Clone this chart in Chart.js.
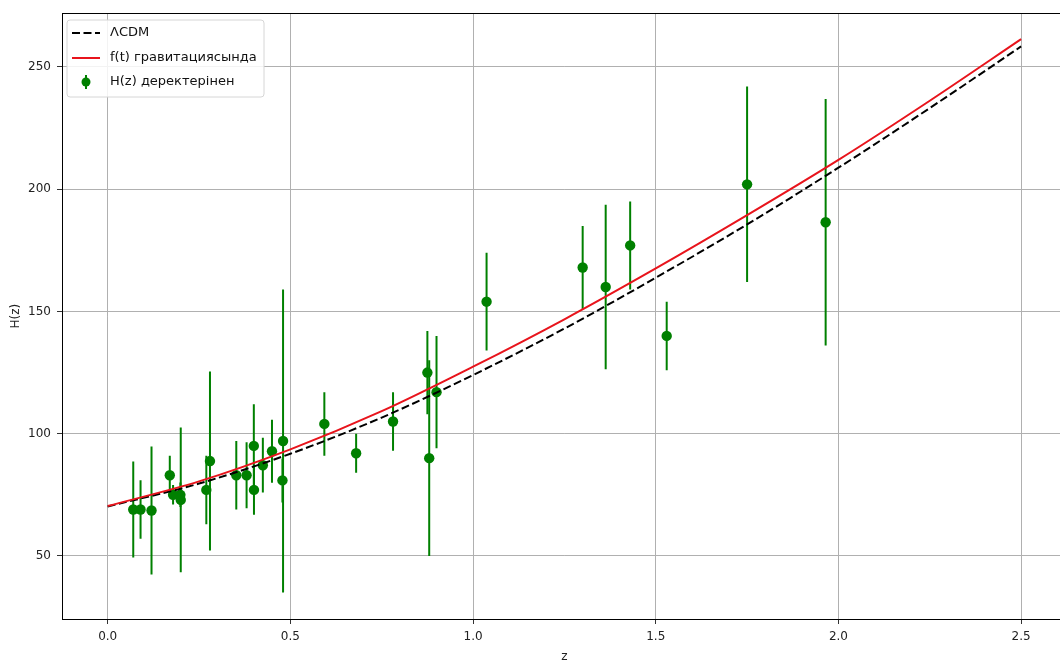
<!DOCTYPE html>
<html>
<head>
<meta charset="utf-8">
<script src="https://cdn.jsdelivr.net/npm/chart.js@4.4.1/dist/chart.umd.min.js"></script>
<style>
  html, body { margin: 0; padding: 0; background: #fff; overflow: hidden; }
  #wrap { width: 1072px; height: 666px; }
</style>
</head>
<body>
<div id="wrap"><canvas id="chart"></canvas></div>
<script>
// observational H(z) points
const zObs = [0.07, 0.09, 0.12, 0.17, 0.179, 0.199, 0.2, 0.27, 0.28, 0.352, 0.3802, 0.4, 0.4004, 0.4247, 0.4497,
              0.4783, 0.48, 0.593, 0.68, 0.781, 0.875, 0.88, 0.9, 1.037, 1.3, 1.363, 1.43, 1.53, 1.75, 1.965];
const hObs = [69, 69, 68.6, 83, 75, 75, 72.9, 77, 88.8, 83, 83, 95, 77, 87.1, 92.8,
              80.9, 97, 104, 92, 105, 125, 90, 117, 154, 168, 160, 177, 140, 202, 186.5];
const hErr = [19.6, 12, 26.2, 8, 4, 5, 29.6, 14, 36.6, 14, 13.5, 17, 10.2, 11.2, 12.9,
              9, 62, 13, 8, 12, 17, 40, 23, 20, 17, 33.6, 18, 14, 40, 50.4];

// model curves
const zCurve = [0, 0.25, 0.5, 0.75, 1.0, 1.25, 1.5, 1.75, 2.0, 2.25, 2.5];
const hLCDM  = [70.2, 79.6, 91.8, 106.6, 124.0, 143.0, 163.8, 185.6, 208.8, 233.2, 258.4];
const hFT    = [70.4, 80.5, 93.6, 109.2, 127.4, 146.8, 167.6, 189.4, 212.0, 236.2, 261.4];

const xTicks = [0, 0.5, 1.0, 1.5, 2.0, 2.5];
const yTicks = [50, 100, 150, 200, 250];

const labels = ['ΛCDM', 'f(t) гравитациясында', 'H(z) деректерінен'];

const FONT = '"DejaVu Sans", "Liberation Sans", sans-serif';
const GREEN = '#008000';

// vertical error bars, drawn under the markers
const errorBars = {
  id: 'errorBars',
  beforeDatasetsDraw(chart) {
    const { ctx, chartArea, scales: { x, y } } = chart;
    ctx.save();
    ctx.beginPath();
    ctx.rect(chartArea.left, chartArea.top, chartArea.right - chartArea.left, chartArea.bottom - chartArea.top);
    ctx.clip();
    ctx.strokeStyle = GREEN;
    ctx.lineWidth = 2;
    zObs.forEach((z, i) => {
      const px = x.getPixelForValue(z);
      ctx.beginPath();
      ctx.moveTo(px, y.getPixelForValue(hObs[i] - hErr[i]));
      ctx.lineTo(px, y.getPixelForValue(hObs[i] + hErr[i]));
      ctx.stroke();
    });
    ctx.restore();
  }
};

// matplotlib style frame + legend
const frameLegend = {
  id: 'frameLegend',
  afterDraw(chart) {
    const { ctx, chartArea: a } = chart;
    ctx.save();
    ctx.strokeStyle = '#000';
    ctx.lineWidth = 1;
    ctx.strokeRect(Math.round(a.left) + 0.5, Math.round(a.top) + 0.5,
                   Math.round(a.right - a.left), Math.round(a.bottom - a.top));

    // legend box
    const bx = 67, by = 20, bw = 197, bh = 77, r = 3;
    ctx.beginPath();
    ctx.moveTo(bx + r, by);
    ctx.arcTo(bx + bw, by, bx + bw, by + bh, r);
    ctx.arcTo(bx + bw, by + bh, bx, by + bh, r);
    ctx.arcTo(bx, by + bh, bx, by, r);
    ctx.arcTo(bx, by, bx + bw, by, r);
    ctx.closePath();
    ctx.fillStyle = 'rgba(255,255,255,0.85)';
    ctx.fill();
    ctx.strokeStyle = '#d6d6d6';
    ctx.stroke();

    const ds = chart.data.datasets;
    const rows = [33, 58, 82];
    ctx.font = '13px ' + FONT;
    ctx.textBaseline = 'middle';
    ctx.fillStyle = '#111';
    ds.forEach((d, i) => {
      const yy = rows[i];
      ctx.save();
      if (d.showLine) {
        ctx.strokeStyle = d.borderColor;
        ctx.lineWidth = d.borderWidth;
        ctx.setLineDash(d.borderDash || []);
        ctx.beginPath();
        ctx.moveTo(72, yy);
        ctx.lineTo(100, yy);
        ctx.stroke();
      } else {
        ctx.strokeStyle = GREEN;
        ctx.lineWidth = 2;
        ctx.beginPath();
        ctx.moveTo(86, yy - 7);
        ctx.lineTo(86, yy + 7);
        ctx.stroke();
        ctx.fillStyle = GREEN;
        ctx.beginPath();
        ctx.arc(86, yy, 4.5, 0, Math.PI * 2);
        ctx.fill();
      }
      ctx.restore();
      ctx.fillText(d.label, 110, yy);
    });
    ctx.restore();
  }
};

new Chart(document.getElementById('chart'), {
  type: 'scatter',
  data: {
    datasets: [
      {
        label: labels[0],
        data: zCurve.map((z, i) => ({ x: z, y: hLCDM[i] })),
        showLine: true,
        borderColor: '#000',
        borderWidth: 2,
        borderDash: [8, 3.5],
        pointRadius: 0,
        cubicInterpolationMode: 'monotone',
        order: 1
      },
      {
        label: labels[1],
        data: zCurve.map((z, i) => ({ x: z, y: hFT[i] })),
        showLine: true,
        borderColor: '#e8141c',
        borderWidth: 2,
        pointRadius: 0,
        cubicInterpolationMode: 'monotone',
        order: 0
      },
      {
        label: labels[2],
        data: zObs.map((z, i) => ({ x: z, y: hObs[i] })),
        showLine: false,
        pointRadius: 5.2,
        backgroundColor: GREEN,
        borderWidth: 0,
        order: 2
      }
    ]
  },
  options: {
    responsive: true,
    maintainAspectRatio: false,
    devicePixelRatio: 1,
    animation: false,
    layout: { padding: { top: 12, right: 4, left: 0, bottom: 0 } },
    plugins: {
      legend: { display: false },
      tooltip: { enabled: false }
    },
    scales: {
      x: {
        type: 'linear',
        min: -0.125,
        max: 2.625,
        afterBuildTicks: s => { s.ticks = xTicks.map(v => ({ value: v })); },
        afterFit: s => { s.height = 47; },
        ticks: {
          callback: v => Number(v).toFixed(1),
          font: { family: FONT, size: 12 },
          color: '#222',
          padding: 6,
          maxRotation: 0
        },
        grid: { color: '#b0b0b0', lineWidth: 1, tickLength: 5, tickColor: '#333' },
        border: { display: true, color: '#000', width: 1 },
        title: {
          display: true,
          text: 'z',
          font: { family: FONT, size: 12 },
          color: '#222',
          padding: { top: 0, bottom: 2 }
        }
      },
      y: {
        min: 24.2,
        max: 272,
        afterBuildTicks: s => { s.ticks = yTicks.map(v => ({ value: v })); },
        afterFit: s => { s.width = 62; },
        ticks: {
          font: { family: FONT, size: 12 },
          color: '#222',
          padding: 6
        },
        grid: { color: '#b0b0b0', lineWidth: 1, tickLength: 5, tickColor: '#333' },
        border: { display: true, color: '#000', width: 1 },
        title: {
          display: true,
          text: 'H(z)',
          font: { family: FONT, size: 12 },
          color: '#222',
          padding: { top: 9, bottom: 0 }
        }
      }
    }
  },
  plugins: [errorBars, frameLegend]
});
</script>
</body>
</html>
